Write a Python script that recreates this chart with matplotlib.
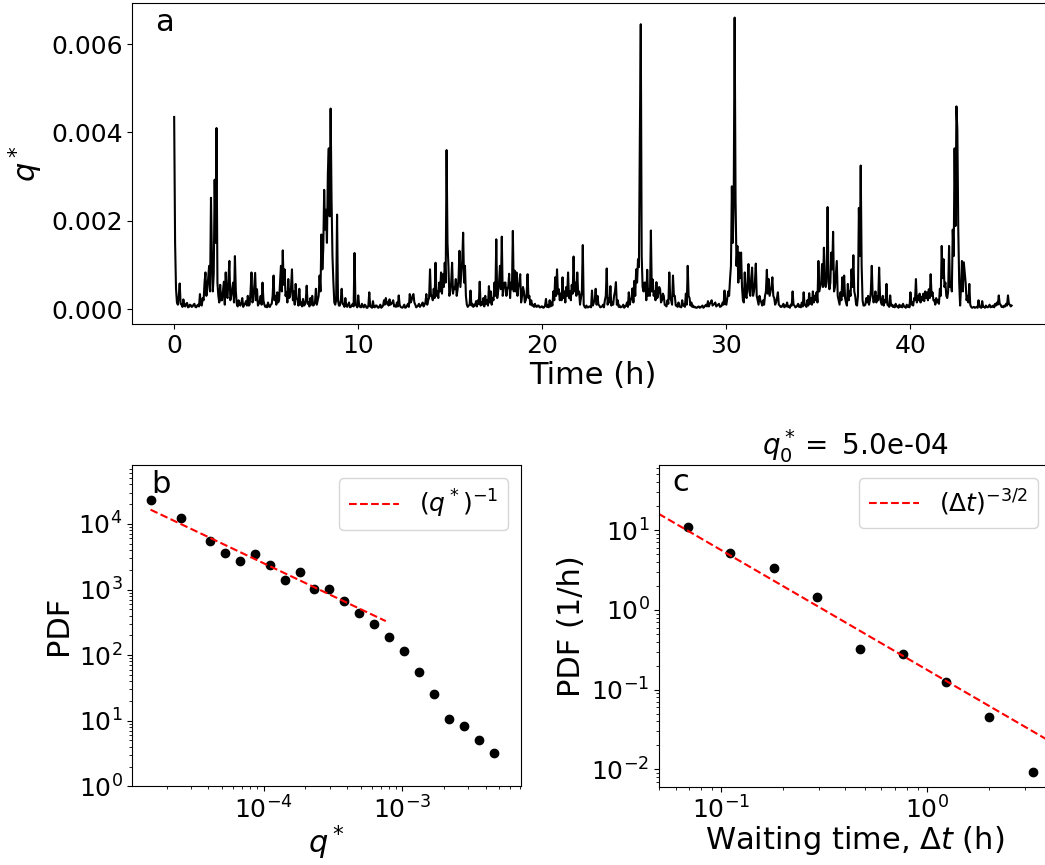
import numpy as np
import matplotlib
matplotlib.use("Agg")
import matplotlib.pyplot as plt

# ---------------- data ----------------
# panel a: q* time series, values in units of 1e-5.
# q_main: samples at t = 0.0, 0.1, 0.2, ... h
# q_mid : samples at t = 0.05, 0.15, 0.25, ... h
dt_hours = 0.05
q_main_1e5 = [
    435, 46, 10, 58, 10, 22, 6, 14, 5, 9,             # 0 h
    6, 12, 4, 10, 34, 8, 20, 83, 45, 98,              # 1 h
    252, 40, 293, 410, 30, 55, 20, 62, 83, 25,        # 2 h
    109, 30, 60, 120, 12, 20, 8, 25, 10, 18,          # 3 h
    30, 10, 83, 20, 82, 45, 12, 30, 60, 10,           # 4 h
    8, 15, 5, 12, 76, 30, 38, 20, 98, 133,            # 5 h
    90, 38, 68, 30, 90, 40, 57, 20, 46, 15,           # 6 h
    23, 10, 53, 15, 25, 30, 10, 46, 20, 76,           # 7 h
    169, 136, 180, 150, 364, 454, 120, 15, 20, 20,    # 8 h
    8, 46, 10, 25, 5, 15, 5, 12, 127, 8,              # 9 h
    31, 5, 12, 4, 8, 3, 38, 5, 18, 4,                 # 10 h
    8, 3, 10, 5, 20, 25, 15, 22, 12, 20,              # 11 h
    8, 15, 31, 5, 3, 10, 4, 12, 34, 20,               # 12 h
    34, 10, 6, 12, 8, 15, 10, 34, 20, 90,             # 13 h
    30, 46, 105, 40, 60, 83, 79, 105, 360, 98,        # 14 h
    40, 105, 50, 68, 45, 132, 80, 173, 98, 10,        # 15 h
    8, 42, 12, 10, 18, 20, 62, 15, 25, 30,            # 16 h
    20, 52, 40, 25, 60, 158, 40, 98, 164, 46,         # 17 h
    60, 46, 80, 60, 177, 87, 83, 50, 79, 30,          # 18 h
    40, 20, 79, 30, 20, 10, 12, 5, 8, 4,              # 19 h
    6, 4, 23, 8, 20, 15, 40, 72, 90, 45,              # 20 h
    35, 72, 40, 50, 83, 40, 55, 119, 60, 83,          # 21 h
    40, 25, 145, 5, 8, 4, 6, 42, 15, 46,              # 22 h
    30, 8, 5, 10, 20, 92, 25, 52, 15, 30,             # 23 h
    61, 20, 8, 5, 10, 6, 15, 38, 20, 47,              # 24 h
    64, 90, 113, 390, 120, 40, 60, 89, 45, 178,       # 25 h
    67, 40, 61, 35, 45, 20, 30, 8, 20, 83,            # 26 h
    20, 76, 30, 8, 15, 5, 20, 10, 35, 98,             # 27 h
    25, 15, 8, 5, 3, 6, 4, 8, 5, 10,                  # 28 h
    18, 12, 20, 10, 15, 8, 12, 6, 15, 42,             # 29 h
    10, 40, 68, 278, 248, 248, 143, 128, 128, 20,     # 30 h
    83, 25, 102, 30, 94, 40, 103, 20, 30, 15,         # 31 h
    20, 30, 89, 68, 40, 72, 25, 15, 38, 8,            # 32 h
    5, 12, 8, 15, 6, 10, 40, 8, 5, 12,                # 33 h
    8, 15, 38, 8, 20, 36, 25, 40, 30, 38,             # 34 h
    109, 50, 102, 139, 50, 231, 45, 128, 175, 50,     # 35 h
    109, 20, 38, 72, 76, 15, 57, 40, 90, 122,         # 36 h
    30, 8, 229, 325, 20, 8, 25, 30, 20, 98,           # 37 h
    15, 40, 30, 94, 15, 30, 20, 57, 8, 31,            # 38 h
    10, 8, 12, 6, 10, 8, 12, 5, 10, 8,                # 39 h
    38, 15, 25, 68, 30, 35, 28, 35, 40, 38,           # 40 h
    45, 79, 38, 20, 25, 20, 46, 143, 113, 60,         # 41 h
    25, 143, 60, 180, 364, 459, 180, 8, 109, 106,     # 42 h
    60, 30, 57, 5, 4, 3, 5, 20, 4, 18,                # 43 h
    5, 8, 4, 10, 6, 8, 12, 15, 31, 10,                # 44 h
    6, 8, 12, 31, 10, 8,                              # 45 h
]
q_mid_1e5 = [
    150, 15, 30, 12, 5, 8, 12, 4, 10, 5,              # 0 h
    10, 5, 8, 6, 10, 25, 60, 30, 70, 40,              # 1 h
    120, 80, 150, 60, 15, 20, 40, 10, 30, 70,         # 2 h
    20, 45, 15, 40, 6, 10, 15, 5, 12, 8,              # 3 h
    8, 40, 15, 50, 20, 8, 18, 10, 20, 5,              # 4 h
    4, 6, 10, 30, 20, 10, 15, 60, 40, 55,             # 5 h
    30, 15, 25, 50, 20, 10, 25, 8, 10, 6,             # 6 h
    8, 20, 12, 6, 10, 8, 15, 10, 30, 40,              # 7 h
    90, 270, 225, 308, 210, 248, 61, 10, 214, 8,      # 8 h
    20, 12, 5, 8, 10, 4, 8, 6, 10, 4,                 # 9 h
    8, 4, 6, 10, 3, 8, 6, 3, 5, 8,                    # 10 h
    4, 6, 3, 8, 10, 12, 8, 10, 15, 6,                 # 11 h
    5, 6, 10, 4, 6, 3, 8, 5, 15, 30,                  # 12 h
    15, 4, 8, 5, 10, 6, 15, 10, 25, 30,               # 13 h
    20, 25, 30, 25, 40, 35, 50, 60, 150, 30,          # 14 h
    60, 35, 45, 30, 70, 50, 110, 60, 30, 5,           # 15 h
    10, 8, 5, 8, 6, 12, 8, 10, 6, 12,                 # 16 h
    8, 15, 10, 20, 30, 25, 60, 45, 30, 60,            # 17 h
    30, 50, 25, 45, 40, 40, 30, 60, 15, 50,           # 18 h
    15, 35, 25, 10, 8, 5, 6, 8, 4, 6,                 # 19 h
    3, 8, 5, 4, 6, 8, 20, 30, 35, 20,                 # 20 h
    20, 25, 15, 30, 25, 20, 35, 40, 30, 35,           # 21 h
    10, 40, 10, 3, 4, 6, 4, 8, 20, 10,                # 22 h
    10, 4, 6, 4, 30, 10, 15, 8, 10, 40,               # 23 h
    10, 5, 4, 6, 3, 8, 5, 10, 25, 15,                 # 24 h
    30, 60, 95, 645, 50, 60, 20, 30, 30, 40,          # 25 h
    30, 20, 25, 50, 15, 35, 10, 6, 12, 25,            # 26 h
    10, 30, 8, 5, 6, 4, 8, 5, 10, 30,                 # 27 h
    8, 5, 4, 3, 5, 3, 6, 3, 8, 6,                     # 28 h
    6, 15, 8, 12, 6, 10, 5, 8, 10, 12,                # 29 h
    25, 30, 98, 150, 660, 98, 60, 70, 50, 15,         # 30 h
    30, 60, 40, 70, 30, 60, 30, 10, 20, 8,            # 31 h
    10, 40, 35, 30, 50, 30, 10, 25, 10, 5,            # 32 h
    8, 4, 6, 5, 3, 8, 10, 4, 8, 5,                    # 33 h
    4, 6, 10, 5, 8, 12, 10, 15, 20, 15,               # 34 h
    40, 60, 50, 60, 80, 60, 60, 90, 40, 80,           # 35 h
    30, 10, 20, 30, 25, 8, 20, 30, 50, 40,            # 36 h
    10, 30, 120, 98, 8, 10, 15, 10, 40, 30,           # 37 h
    25, 15, 20, 30, 10, 8, 15, 10, 5, 8,              # 38 h
    5, 4, 6, 3, 5, 4, 6, 3, 5, 4,                     # 39 h
    10, 8, 20, 15, 20, 15, 20, 18, 25, 20,            # 40 h
    25, 30, 20, 10, 15, 12, 30, 70, 50, 30,           # 41 h
    40, 50, 40, 120, 188, 405, 60, 50, 40, 83,        # 42 h
    20, 15, 10, 3, 5, 4, 3, 6, 3, 5,                  # 43 h
    3, 5, 6, 4, 5, 4, 8, 10, 12, 5,                   # 44 h
    4, 6, 8, 12, 6,                                   # 45 h
]

# panel b: PDF of q*
b_q = [1.53e-5, 2.52e-5, 4.09e-5, 5.28e-5, 6.76e-5, 8.67e-5, 1.11e-4, 1.42e-4,
       1.82e-4, 2.32e-4, 2.97e-4, 3.81e-4, 4.89e-4, 6.30e-4, 8.02e-4, 1.03e-3,
       1.32e-3, 1.68e-3, 2.17e-3, 2.77e-3, 3.55e-3, 4.57e-3]
b_pdf = [23500, 12200, 5510, 3610, 2730, 3440, 2340, 1416, 1830, 1021, 1007,
         661, 440, 302, 191, 117, 54.7, 25.6, 10.8, 8.42, 5.15, 3.26]
b_fit_x = [1.53e-5, 7.6e-4]
b_fit_y = [16500, 330]

# panel c: waiting-time PDF
c_dt = [0.0686, 0.1106, 0.1796, 0.2906, 0.4708, 0.7643, 1.233, 1.995, 3.256]
c_pdf = [11.0, 5.15, 3.37, 1.46, 0.321, 0.277, 0.123, 0.0457, 0.00935]
c_fit_x = [0.04, 5.0]
c_fit_amp = 0.177
c_fit_exp = -1.5
q0 = 5.0e-4

# ---------------- figure ----------------
fig = plt.figure(figsize=(10.45, 8.65), dpi=100)

TICK = 18
LABEL = 22
LETTER = 22

# panel a
ax_a = fig.add_axes([0.1266, 0.6254, 0.8820, 0.3711])
q = np.empty(len(q_main_1e5) + len(q_mid_1e5))
q[0::2] = q_main_1e5
q[1::2] = q_mid_1e5
q = q * 1e-5
t = np.arange(len(q)) * dt_hours
ax_a.plot(t, q, color='black', lw=1.5)
ax_a.set_xlim(-2.275, 47.8)
ax_a.set_ylim(-0.000338, 0.00693)
ax_a.set_yticks([0.0, 0.002, 0.004, 0.006])
ax_a.set_xticks([0, 10, 20, 30, 40])
ax_a.tick_params(labelsize=TICK)
ax_a.set_xlabel('Time (h)', fontsize=LABEL, labelpad=2)
ax_a.set_ylabel(r'$q^*$', fontsize=LABEL)
ax_a.text(0.025, 0.914, 'a', transform=ax_a.transAxes, fontsize=LETTER,
          va='baseline', ha='left')

# panel b
ax_b = fig.add_axes([0.1266, 0.0910, 0.3717, 0.3710])
ax_b.loglog(b_q, b_pdf, 'o', color='black', ms=6)
ax_b.loglog(b_fit_x, b_fit_y, 'r--', lw=1.5, label=r'$(q^*)^{-1}$')
ax_b.set_xlim(1.13e-5, 7.14e-3)
ax_b.set_ylim(1, 10 ** 4.893)
ax_b.set_yticks([1, 10, 100, 1e3, 1e4])
ax_b.tick_params(labelsize=TICK)
ax_b.set_xlabel(r'$q^*$', fontsize=LABEL, labelpad=0)
ax_b.set_ylabel('PDF', fontsize=LABEL)
ax_b.legend(loc='upper right', fontsize=18)
ax_b.text(0.048, 0.915, 'b', transform=ax_b.transAxes, fontsize=LETTER,
          va='baseline', ha='left')

# panel c
ax_c = fig.add_axes([0.6309, 0.0905, 0.3748, 0.3718])
ax_c.loglog(c_dt, c_pdf, 'o', color='black', ms=6)
fx = np.array(c_fit_x)
ax_c.loglog(fx, c_fit_amp * fx ** c_fit_exp, 'r--', lw=1.5,
            label=r'$(\Delta t)^{-3/2}$')
ax_c.set_xlim(0.05, 4.0)
ax_c.set_ylim(6.07e-3, 65.2)
ax_c.set_yticks([1e-2, 1e-1, 1, 10])
ax_c.tick_params(labelsize=TICK)
ax_c.set_xlabel(r'Waiting time, $\Delta t$ (h)', fontsize=LABEL, labelpad=0)
ax_c.set_ylabel('PDF (1/h)', fontsize=LABEL)
ax_c.set_title(r'$q_0^*=$ ' + f'{q0:.1e}', fontsize=20)
ax_c.legend(loc='upper right', fontsize=18)
ax_c.text(0.033, 0.918, 'c', transform=ax_c.transAxes, fontsize=LETTER,
          va='baseline', ha='left')

fig.savefig('out.png', dpi=100)
